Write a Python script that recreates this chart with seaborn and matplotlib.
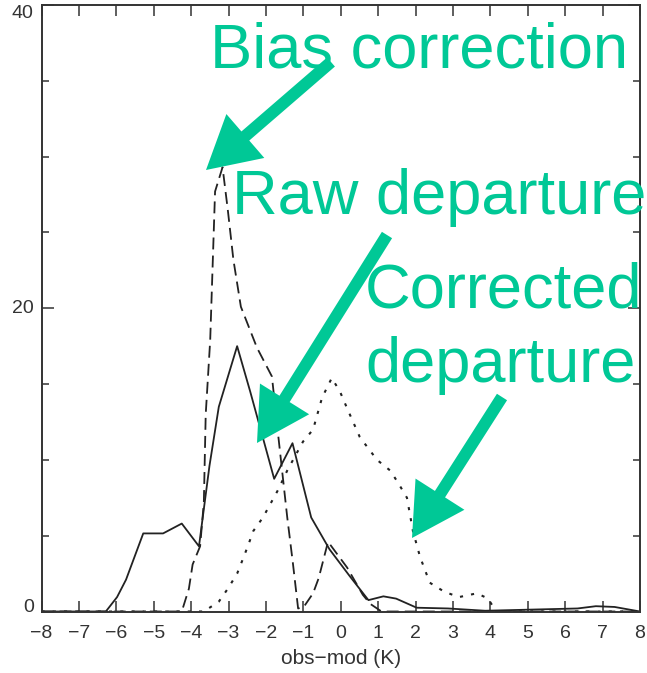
import numpy as np
import pandas as pd
import matplotlib
matplotlib.use("Agg")
import matplotlib.pyplot as plt
from matplotlib.patches import Polygon
import seaborn as sns

# Histogram curves of observation minus model (K)
raw_x = [-8.0, -6.28, -5.98, -5.74, -5.28, -4.75, -4.25, -3.79, -3.51, -3.26, -2.77,
         -2.42, -1.78, -1.29, -0.79, -0.30, 0.25, 0.74, 1.14, 1.48, 2.03, 2.87, 3.86,
         6.33, 6.82, 7.32, 8.0]
raw_y = [0.0, 0.0, 0.95, 2.1, 5.15, 5.15, 5.8, 4.3, 9.6, 13.5, 17.5,
         14.5, 8.75, 11.1, 6.2, 4.1, 2.3, 0.75, 1.0, 0.85, 0.25, 0.2, 0.05,
         0.2, 0.35, 0.3, 0.0]

bias_x = [-8.0, -4.25, -4.06, -3.96, -3.76, -3.66, -3.61, -3.49, -3.36, -3.16, -3.02,
          -2.87, -2.67, -2.24, -1.84, -1.68, -1.43, -1.28, -1.14, -0.99, -0.74,
          -0.59, -0.34, 0.17, 0.59, 0.79, 1.09, 8.0]
bias_y = [0.0, 0.0, 1.5, 3.1, 4.3, 7.2, 13.0, 17.9, 27.7, 29.3, 26.5,
          23.2, 20.1, 17.4, 15.5, 11.8, 6.2, 3.2, 0.2, 0.3, 1.2,
          2.2, 4.6, 2.9, 1.1, 0.5, 0.0, 0.0]

corr_x = [-8.0, -3.66, -3.26, -3.02, -2.77, -2.61, -2.47, -2.34, -2.08, -1.68, -1.43,
          -1.01, -0.74, -0.50, -0.24, -0.02, 0.17, 0.51, 0.97, 1.32, 1.53, 1.77,
          1.93, 2.12, 2.38, 2.77, 3.16, 3.64, 3.94, 4.15, 8.0]
corr_y = [0.0, 0.0, 0.65, 1.5, 2.5, 3.5, 4.4, 5.3, 6.2, 8.0, 9.3,
          11.2, 12.0, 14.1, 15.4, 14.5, 13.4, 11.5, 10.0, 9.3, 8.5, 7.5,
          5.3, 3.6, 1.9, 1.3, 0.95, 1.2, 0.85, 0.0, 0.0]

x_ticks = list(range(-8, 9))
y_major = [0, 20, 40]
y_minor = [5, 10, 15, 25, 30, 35]
x_label = "obs\u2212mod (K)"

notes = ["Bias correction", "Raw departure", "Corrected", "departure"]

sns.set_style("ticks")
plt.rcParams["font.family"] = ["Liberation Sans", "DejaVu Sans"]

W, H = 647, 673
fig = plt.figure(figsize=(W / 100, H / 100), dpi=100)
ax = fig.add_axes([41.5 / W, (H - 611.5) / H, (640 - 41.5) / W, (611.5 - 5) / H])

ink = "#222222"
frames = {
    "raw": pd.DataFrame({"x": raw_x, "y": raw_y}),
    "bias": pd.DataFrame({"x": bias_x, "y": bias_y}),
    "corr": pd.DataFrame({"x": corr_x, "y": corr_y}),
}
sns.lineplot(data=frames["raw"], x="x", y="y", ax=ax, sort=False, estimator=None,
             color=ink, lw=1.3, linestyle="-")
sns.lineplot(data=frames["bias"], x="x", y="y", ax=ax, sort=False, estimator=None,
             color=ink, lw=1.3, linestyle=(0, (6.6, 3.4)))
sns.lineplot(data=frames["corr"], x="x", y="y", ax=ax, sort=False, estimator=None,
             color=ink, lw=1.5, linestyle=(0, (1.5, 3.9)))

ax.set_xlim(-8, 8)
ax.set_ylim(0, 40)
ax.set_xticks(x_ticks)
ax.set_xticklabels([str(t).replace("-", "\u2212") for t in x_ticks])
ax.set_yticks(y_major)
ax.set_yticklabels([str(t) for t in y_major])
ax.set_yticks(y_minor, minor=True)
ax.set_xlabel(x_label, fontsize=15, color="#333333", labelpad=5)
ax.set_ylabel("")
ax.tick_params(axis="x", which="major", direction="in", top=True,
               length=8, width=1.1, color="#333333", labelcolor="#333333",
               labelsize=14, pad=9.4)
ax.tick_params(axis="y", which="major", direction="in", right=True,
               length=8.5, width=1.1, color="#333333", labelcolor="#333333",
               labelsize=14, pad=5.5)
ax.tick_params(axis="y", which="minor", direction="in", right=True,
               length=5, width=1.1, color="#333333")
for lab, va in zip(ax.get_yticklabels(), ["baseline", "center", "top"]):
    lab.set_verticalalignment(va)
for s in ax.spines.values():
    s.set_color("#333333")
    s.set_linewidth(1.4)

green = "#00C896"


def px(x, y):
    return (x / W, 1 - y / H)


def arrow(tail, tip, shaft=12, head_w=58, head_l=52):
    t = np.array(tail, float)
    p = np.array(tip, float)
    d = (p - t) / np.linalg.norm(p - t)
    n = np.array([-d[1], d[0]])
    b = p - d * head_l
    pts = [t + n * shaft / 2, b + n * shaft / 2, b + n * head_w / 2, p,
           b - n * head_w / 2, b - n * shaft / 2, t - n * shaft / 2]
    fig.add_artist(Polygon([px(*q) for q in pts], closed=True, transform=fig.transFigure,
                           facecolor=green, edgecolor="none", zorder=10))


arrow((331, 62), (206, 170))
arrow((387, 235), (257, 443))
arrow((502, 397), (412, 538))

text_pos = [(210, 68), (232, 214), (365, 308), (365, 382)]
for label, (x, y) in zip(notes, text_pos):
    fig.text(*px(x, y), label, fontsize=45.5, color=green, ha="left", va="baseline",
             zorder=11)

fig.savefig("out.png", dpi=100)
